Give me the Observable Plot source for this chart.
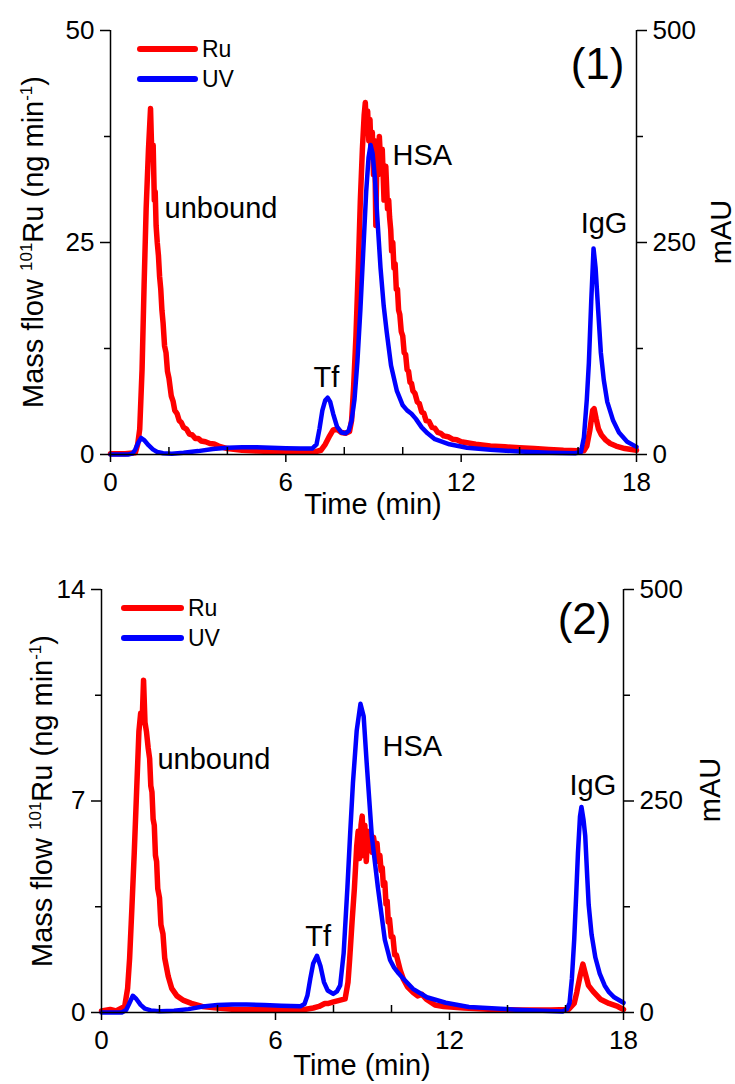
<!DOCTYPE html>
<html><head><meta charset="utf-8">
<script src="https://cdn.jsdelivr.net/npm/d3@7"></script>
<script src="https://cdn.jsdelivr.net/npm/@observablehq/plot@0.6"></script>
<style>
body{margin:0;background:#fff;}
#chart{width:735px;}
#chart svg{display:block;}
</style>
</head><body><div id="chart"></div>
<script>
// ---- axis ticks ----
const timeTicks = [0, 6, 12, 18];
const timeMinor = [2, 4, 8, 10, 14, 16];
const mauTicks = [0, 250, 500];
const mauMinor = [125, 375];
const ruTicks1 = [0, 25, 50];
const ruMinor1 = [12.5, 37.5];
const ruTicks2 = [0, 7, 14];
const ruMinor2 = [3.5, 10.5];
const seriesNames = ["Ru", "UV"];
const seriesColors = ["#ff0000", "#0000ff"];

// ---- panel (1): time (min), Ru mass flow (ng/min) ----
const ru1 = [[0,0.1],[0.5,0.1],[0.85,0.2],[0.93,1.2],[1.0,3],[1.08,10],[1.15,20],[1.22,29],[1.3,36],[1.37,40.8],[1.4,37],[1.43,35],[1.46,36.5],[1.5,30],[1.53,31],[1.56,27],[1.6,25],[1.64,23.5],[1.68,21],[1.72,19.5],[1.76,17],[1.8,15.5],[1.85,12.8],[1.9,12],[1.95,9.8],[2.0,9],[2.08,6.9],[2.14,6.3],[2.2,5.2],[2.28,4.8],[2.35,4],[2.42,3.8],[2.5,3.2],[2.6,3.0],[2.7,2.4],[2.8,2.3],[2.9,1.9],[3.0,1.9],[3.1,1.6],[3.25,1.5],[3.4,1.3],[3.55,1.25],[3.7,1.0],[4.0,0.7],[4.5,0.5],[5.0,0.4],[5.5,0.35],[6.0,0.3],[6.5,0.3],[7.0,0.3],[7.2,0.5],[7.35,1.2],[7.5,2.2],[7.62,2.9],[7.75,3.0],[7.9,2.6],[8.05,2.5],[8.18,2.7],[8.25,4],[8.32,8],[8.4,14],[8.48,22],[8.55,30],[8.62,36],[8.68,40],[8.72,41.5],[8.76,38],[8.8,40.5],[8.84,37],[8.88,39.5],[8.92,35],[8.96,38],[9.0,33],[9.04,37],[9.08,27],[9.12,36],[9.16,33],[9.2,37.5],[9.25,34],[9.3,36],[9.36,30],[9.42,34],[9.48,29],[9.52,30],[9.55,28],[9.59,26.5],[9.62,24],[9.66,25],[9.7,22],[9.74,22.5],[9.78,19.5],[9.82,19.5],[9.86,17],[9.9,16.5],[9.95,14.5],[10.0,14],[10.05,12],[10.1,11.8],[10.15,10],[10.2,9.8],[10.25,8.5],[10.3,8.4],[10.35,7.5],[10.42,7.2],[10.5,6.2],[10.57,6.0],[10.65,5],[10.72,4.9],[10.8,4],[10.9,3.9],[11.0,3.2],[11.1,3.1],[11.2,2.6],[11.3,2.5],[11.4,2.2],[11.55,2.1],[11.7,1.8],[11.85,1.75],[12.0,1.5],[12.5,1.2],[13,1.0],[13.5,0.9],[14,0.8],[14.5,0.7],[15,0.6],[15.5,0.5],[16,0.45],[16.2,0.45],[16.3,1],[16.4,2.8],[16.5,5.2],[16.55,5.4],[16.62,4.2],[16.7,3.0],[16.8,2.3],[16.95,1.7],[17.1,1.3],[17.3,1.0],[17.6,0.7],[18,0.5]];
// UV absorbance (mAU)
const uv1 = [[0,0],[0.6,0],[0.75,1],[0.85,6],[0.95,14],[1.05,19.5],[1.15,17],[1.3,11],[1.45,6],[1.6,3],[1.8,1.5],[2.1,1],[2.5,2],[3.0,4],[3.5,6.5],[4.0,8],[4.5,8.5],[5.0,8.5],[5.5,8],[6.0,7.5],[6.5,7],[6.9,7],[7.05,12],[7.15,30],[7.25,52],[7.35,64],[7.43,67],[7.52,62],[7.62,48],[7.75,33],[7.9,26],[8.05,25],[8.15,28],[8.25,40],[8.35,65],[8.45,110],[8.55,170],[8.65,240],[8.75,310],[8.83,350],[8.9,365],[8.97,355],[9.05,325],[9.13,280],[9.24,220],[9.35,175],[9.45,145],[9.6,105],[9.8,75],[10.0,58],[10.15,52],[10.3,48],[10.45,42],[10.65,32],[10.85,25],[11.1,18],[11.6,12],[12.2,8],[13,5.5],[14,3.5],[15,2.2],[15.9,1.5],[16.1,3],[16.2,20],[16.3,65],[16.37,108],[16.45,180],[16.53,243],[16.6,220],[16.69,169],[16.78,120],[16.88,88],[17.0,62],[17.2,40],[17.4,26],[17.68,15],[18,9]];
const labels1 = [
  {text: "unbound", t: 1.85, v: 29.0},
  {text: "HSA", t: 9.65, v: 35.2},
  {text: "Tf", t: 6.95, v: 9.0},
  {text: "IgG", t: 16.09, v: 27.2}
];

// ---- panel (2) ----
const ru2 = [[0,0.05],[0.3,0.1],[0.5,0.05],[0.7,0.15],[0.8,0.2],[0.9,0.8],[0.97,1.8],[1.05,3.5],[1.13,5.3],[1.21,7.3],[1.29,9.3],[1.35,9.9],[1.4,9.6],[1.45,11.0],[1.5,9.6],[1.55,9.3],[1.61,8.75],[1.66,8.4],[1.7,7.5],[1.74,7.3],[1.78,6.4],[1.82,6.2],[1.86,5.2],[1.9,5.0],[1.94,4.1],[2.0,3.8],[2.05,2.9],[2.12,2.6],[2.18,1.8],[2.3,1.2],[2.42,0.8],[2.6,0.55],[2.83,0.4],[3.1,0.3],[3.47,0.2],[4.0,0.15],[4.6,0.1],[5.5,0.1],[6.5,0.08],[7.0,0.1],[7.3,0.15],[7.5,0.2],[7.7,0.3],[7.83,0.3],[8.0,0.35],[8.2,0.4],[8.4,0.45],[8.5,1.0],[8.56,1.8],[8.64,3],[8.72,4.1],[8.8,5.5],[8.85,6.0],[8.9,5.1],[8.95,6.2],[8.99,6.5],[9.03,5.2],[9.08,6.2],[9.13,5.0],[9.18,6.0],[9.23,5.4],[9.28,5.9],[9.33,5.3],[9.38,5.8],[9.44,5.4],[9.5,5.6],[9.55,5.0],[9.6,5.2],[9.64,4.7],[9.68,4.8],[9.72,4.2],[9.77,4.3],[9.81,3.6],[9.85,3.7],[9.89,3.0],[9.93,3.1],[9.99,2.5],[10.05,2.5],[10.11,1.9],[10.17,1.9],[10.3,1.4],[10.41,1.1],[10.55,0.85],[10.74,0.67],[10.9,0.55],[11.05,0.6],[11.2,0.44],[11.5,0.25],[11.8,0.2],[12.5,0.15],[13.5,0.1],[14.5,0.08],[15.5,0.08],[16.1,0.1],[16.3,0.3],[16.39,0.67],[16.5,1.2],[16.6,1.6],[16.68,1.3],[16.79,0.9],[16.95,0.7],[17.2,0.44],[17.5,0.3],[17.8,0.2],[18,0.1]];
const uv2 = [[0,0],[0.7,0],[0.85,3],[0.95,10],[1.08,19.8],[1.2,16],[1.35,9],[1.5,4.5],[1.7,2.5],[2.0,1.5],[2.5,2],[3.0,4],[3.5,7],[4.0,9],[4.5,9.5],[5.0,9.5],[5.6,9],[6.2,8],[6.86,7.4],[7.0,10],[7.1,20],[7.2,40],[7.3,58],[7.43,67],[7.55,55],[7.67,36],[7.8,26],[7.99,22],[8.12,25],[8.23,32],[8.35,70],[8.48,148],[8.58,215],[8.67,271],[8.8,333],[8.93,365],[9.04,350],[9.15,292],[9.32,209],[9.53,148],[9.77,86],[9.95,62],[10.09,53],[10.25,46],[10.41,40],[10.74,28],[11.22,18],[11.87,11.5],[12.67,6.6],[14.3,3.3],[15.9,1.2],[16.05,4],[16.14,11.5],[16.22,40],[16.3,86],[16.37,140],[16.43,189],[16.5,232],[16.55,243],[16.62,228],[16.68,209],[16.75,160],[16.8,127],[16.9,92],[17.03,65],[17.18,46],[17.35,32],[17.5,24],[17.68,18],[18,11.5]];
const labels2 = [
  {text: "unbound", t: 1.93, v: 8.37},
  {text: "HSA", t: 9.69, v: 8.8},
  {text: "Tf", t: 7.03, v: 2.5},
  {text: "IgG", t: 16.14, v: 7.5}
];

const FONT = "'Liberation Sans', Arial, Helvetica, sans-serif";

function panel(cfg) {
  const {ru, uv, ruTicks, ruMinor, labels, tag, height, m} = cfg;
  const ruMax = ruTicks[ruTicks.length - 1];
  const mauMax = mauTicks[mauTicks.length - 1];
  const toRu = (a) => a * ruMax / mauMax;
  const ruData = ru.map(([t, v]) => ({t, v}));
  const uvData = uv.map(([t, a]) => ({t, a}));
  const svg = Plot.plot({
    width: 735, height,
    marginTop: m.top, marginRight: m.right, marginBottom: m.bottom, marginLeft: m.left,
    style: {fontFamily: FONT, fontSize: "26px", color: "black", background: "white", overflow: "visible"},
    x: {domain: [0, 18]},
    y: {domain: [0, ruMax]},
    marks: [
      Plot.line(ruData, {x: "t", y: "v", stroke: seriesColors[0], strokeWidth: 5.5}),
      Plot.line(uvData, {x: "t", y: d => toRu(d.a), stroke: seriesColors[1], strokeWidth: 4.5}),
      Plot.ruleX([0, 18], {stroke: "black", strokeWidth: 1.5}),
      Plot.ruleY([0], {stroke: "black", strokeWidth: 1.5}),
      Plot.axisY({ticks: ruTicks, tickSize: 10, tickPadding: 6, fontSize: 26, label: null, strokeWidth: 1.5}),
      Plot.axisY({ticks: ruMinor, tickSize: 6, tickFormat: () => "", label: null, strokeWidth: 1.5}),
      Plot.axisY({anchor: "right", ticks: mauTicks.map(toRu), tickFormat: (d, i) => String(mauTicks[i]), tickSize: 10, tickPadding: 6, fontSize: 26, label: null, strokeWidth: 1.5}),
      Plot.axisY({anchor: "right", ticks: mauMinor.map(toRu), tickSize: 6, tickFormat: () => "", label: null, strokeWidth: 1.5}),
      Plot.axisX({ticks: timeTicks, tickSize: 8, tickPadding: 10, fontSize: 26, label: null, strokeWidth: 1.5}),
      Plot.axisX({ticks: timeMinor, tickSize: -7, tickFormat: () => "", label: null, strokeWidth: 1.5}),
      Plot.text(labels, {x: "t", y: "v", text: "text", textAnchor: "start", lineAnchor: "middle", fontSize: 29}),
      Plot.text([tag.text], {frameAnchor: "top-right", textAnchor: "end", lineAnchor: "top", dx: -12, dy: tag.dy, fontSize: 44})
    ]
  });
  const s = d3.select(svg);
  // legend
  cfg.legend.forEach((lg, i) => {
    s.append("line").attr("x1", lg.x1).attr("x2", lg.x2).attr("y1", lg.y).attr("y2", lg.y)
      .attr("stroke", seriesColors[i]).attr("stroke-width", 6).attr("stroke-linecap", "round");
    s.append("text").attr("x", lg.x2 + 7).attr("y", lg.y).attr("dy", "0.36em")
      .attr("text-anchor", "start")
      .attr("font-family", FONT).attr("font-size", 23).text(seriesNames[i]);
  });
  // left axis title
  const lt = s.append("text").attr("transform", `translate(${cfg.leftTitle.x},${cfg.leftTitle.y}) rotate(-90)`)
    .attr("text-anchor", "middle").attr("font-family", FONT).attr("font-size", 29);
  lt.append("tspan").text("Mass flow ");
  lt.append("tspan").attr("font-size", 17).attr("dy", -11).text("101");
  lt.append("tspan").attr("dy", 11).text("Ru (ng min");
  lt.append("tspan").attr("font-size", 17).attr("dy", -11).text("-1");
  lt.append("tspan").attr("dy", 11).text(")");
  // right axis title
  s.append("text").attr("transform", `translate(${cfg.rightTitle.x},${cfg.rightTitle.y}) rotate(-90)`)
    .attr("text-anchor", "middle").attr("font-family", FONT).attr("font-size", 29).text("mAU");
  // x axis title
  s.append("text").attr("x", cfg.xTitle.x).attr("y", cfg.xTitle.y).attr("text-anchor", "middle")
    .attr("font-family", FONT).attr("font-size", 29).text("Time (min)");
  return svg;
}

const chart = document.getElementById("chart");
chart.appendChild(panel({
  ru: ru1, uv: uv1, ruTicks: ruTicks1, ruMinor: ruMinor1, labels: labels1,
  tag: {text: "(1)", dy: 17}, height: 540,
  m: {top: 30, right: 99, bottom: 86, left: 110},
  legend: [{x1: 140, x2: 195, y: 49}, {x1: 140, x2: 195, y: 79}],
  leftTitle: {x: 43, y: 242}, rightTitle: {x: 731, y: 232}, xTitle: {x: 373, y: 514}
}));
chart.appendChild(panel({
  ru: ru2, uv: uv2, ruTicks: ruTicks2, ruMinor: ruMinor2, labels: labels2,
  tag: {text: "(2)", dy: 13}, height: 544,
  m: {top: 49, right: 112, bottom: 72, left: 101},
  legend: [{x1: 124, x2: 181, y: 68}, {x1: 124, x2: 181, y: 98}],
  leftTitle: {x: 52, y: 261}, rightTitle: {x: 720, y: 250}, xTitle: {x: 362, y: 535}
}));
</script>
</body></html>
